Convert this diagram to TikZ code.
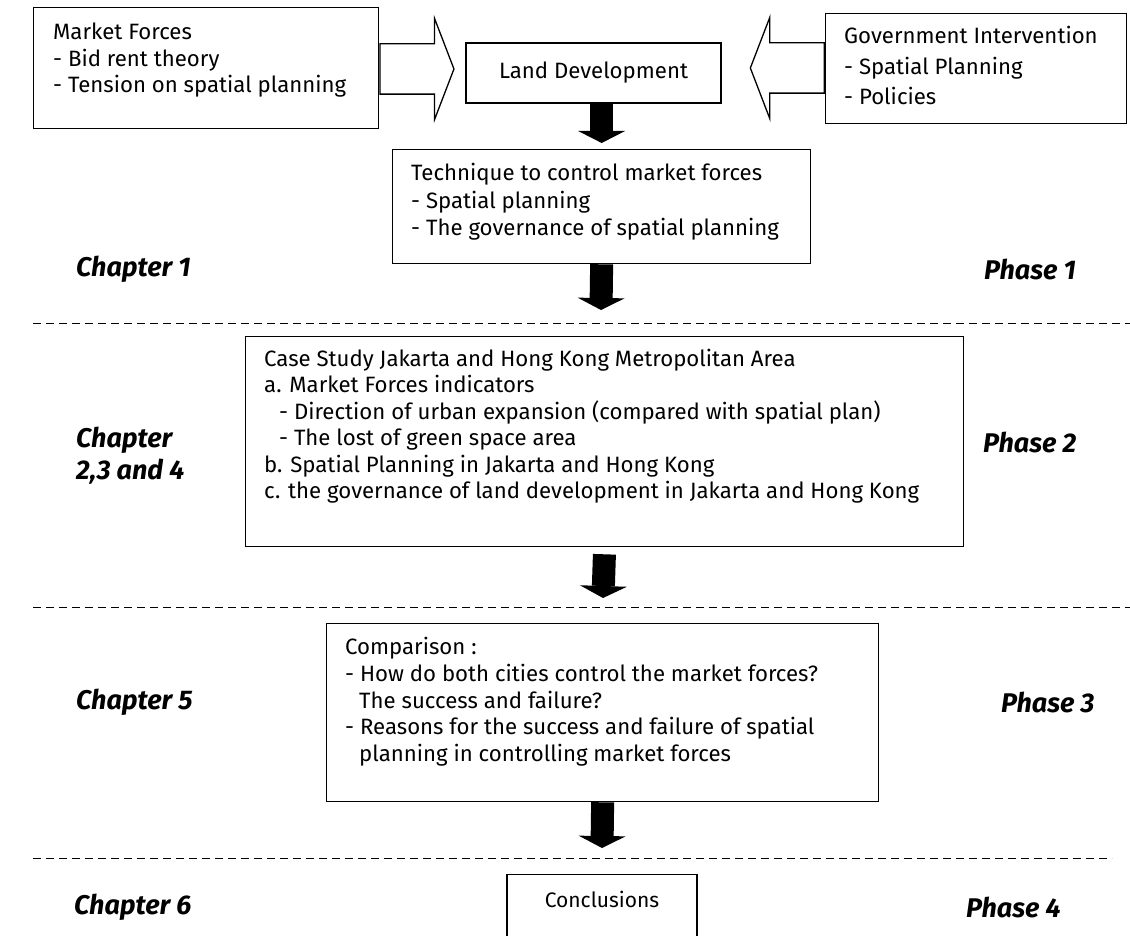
\documentclass[tikz,border=0pt]{standalone}
\usepackage{fontspec}
\setmainfont{Fira Sans}
\usetikzlibrary{arrows.meta,shapes.arrows,positioning}

\tikzset{
  box/.style={draw, line width=1.3pt, inner sep=0pt},
  boxtext/.style={anchor=north west, align=left, inner sep=0pt, font=\fontsize{22.2}{26.5}\selectfont},
  chapter/.style={anchor=west, align=left, inner sep=0pt, font=\fontsize{27}{32}\selectfont\bfseries\itshape},
  phasebreak/.style={dash pattern=on 8pt off 5pt, line width=1pt},
  bigarrow/.style={line width=23pt, -{Triangle[length=12pt,width=47pt,line width=0pt]}},
  hollowarrow/.style={single arrow, draw, line width=1.3pt, inner xsep=0pt, inner ysep=24.5pt,
    single arrow head extend=25.5pt, single arrow tip angle=138, minimum height=74pt},
}

\begin{document}
\begin{tikzpicture}[x=1pt,y=-1pt]
  \useasboundingbox (0,0) rectangle (1130,936);
  \clip (0,0) rectangle (1130,936);

  % phase 1
  \node[box, minimum width=345pt, minimum height=121pt, anchor=north west] (market) at (33,7) {};
  \node[boxtext] (markettxt) at (53,23) {Market Forces\\- Bid rent theory\\- Tension on spatial planning};
  \node[box, minimum width=255pt, minimum height=60pt, font=\fontsize{22.2}{26}\selectfont] (land) at (593.5,73) {Land Development};
  \node[box, minimum width=301pt, minimum height=110pt, anchor=north west] (gov) at (825,13) {};
  \node[boxtext, font=\fontsize{22.2}{30.5}\selectfont] (govtxt) at (844,26) {Government Intervention\\- Spatial Planning\\- Policies};
  \node[hollowarrow, anchor=tail] (push) at (market.east |- 0,69) {};
  \node[hollowarrow, anchor=tail, shape border rotate=180] (pull) at (gov.west |- 0,68) {};
  \node[box, minimum width=418pt, minimum height=114pt, anchor=north west] (tech) at (392,149) {};
  \node[boxtext, font=\fontsize{22.2}{27.5}\selectfont] (techtxt) at (411,163) {Technique to control market forces\\- Spatial planning\\- The governance of spatial planning};
  \draw[bigarrow, shorten >=6pt] (tech.north |- land.south) -- (tech.north);
  \coordinate (tip1) at (601,310);
  \draw[bigarrow] (tech.south) -- (tip1);
  \node[chapter] (ch1) at (76,269) {Chapter 1};
  \node[chapter] (ph1) at (984,269) {Phase 1};
  \draw[phasebreak] (33,323) -- (1130,323);

  % phase 2
  \node[box, minimum width=718pt, minimum height=210pt, anchor=north west] (case) at (245,336) {};
  \node[boxtext, font=\fontsize{22.2}{26.4}\selectfont] (casetxt) at (264,349) {Case Study Jakarta and Hong Kong Metropolitan Area\\
    a. Market Forces indicators\\
    \hspace*{15pt}- Direction of urban expansion (compared with spatial plan)\\
    \hspace*{15pt}- The lost of green space area\\
    b. Spatial Planning in Jakarta and Hong Kong\\
    c. the governance of land development in Jakarta and Hong Kong};
  \node[chapter] (ch2) at (76,456) {Chapter\\2,3 and 4};
  \node[chapter] (ph2) at (983,442) {Phase 2};
  \coordinate (tip2) at (603,598);
  \draw[bigarrow, shorten <=7pt] (case.south) -- (tip2);
  \draw[phasebreak] (33,607) -- (1130,607);

  % phase 3
  \node[box, minimum width=552pt, minimum height=178pt, anchor=north west] (comp) at (326,623) {};
  \node[boxtext, font=\fontsize{22.2}{26.75}\selectfont] (comptxt) at (345,637) {Comparison :\\
    - How do both cities control the market forces?\\
    \hspace*{14pt}The success and failure?\\
    - Reasons for the success and failure of spatial\\
    \hspace*{14pt}planning in controlling market forces};
  \node[chapter] (ch5) at (76,702) {Chapter 5};
  \node[chapter] (ph3) at (1001,702) {Phase 3};
  \coordinate (tip3) at (602,848);
  \draw[bigarrow] (comp.south) -- (tip3);
  \draw[phasebreak] (33,858) -- (1112,858);

  % phase 4
  \node[box, minimum width=190pt, minimum height=100pt, anchor=north] (conc) at (602,874) {};
  \node[inner sep=0pt, font=\fontsize{21}{24}\selectfont] (conctxt) at (602,899) {Conclusions};
  \node[chapter] (ch6) at (74,907) {Chapter 6};
  \node[chapter] (ph4) at (966,907) {Phase 4};
\end{tikzpicture}
\end{document}
